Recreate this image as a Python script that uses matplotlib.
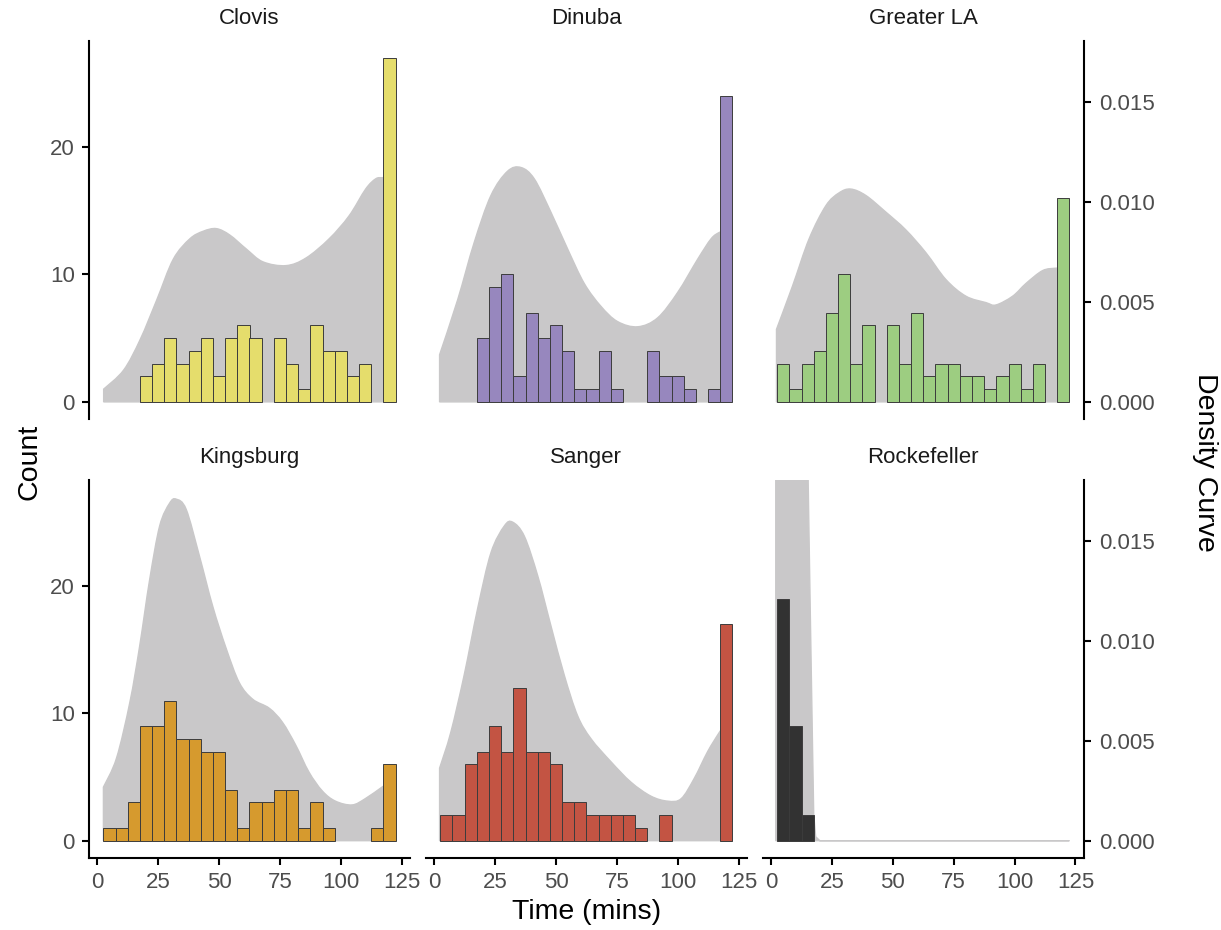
import numpy as np
import matplotlib
matplotlib.use("Agg")
import matplotlib.pyplot as plt
from matplotlib.path import Path
from matplotlib.patches import PathPatch

plt.rcParams['font.family'] = ['Liberation Sans', 'DejaVu Sans']

# ---------------- data ----------------
bin_centers = [5, 10, 15, 20, 25, 30, 35, 40, 45, 50, 55, 60,
               65, 70, 75, 80, 85, 90, 95, 100, 105, 110, 115, 120]
bin_width = 5

panels = ["Clovis", "Dinuba", "Greater LA", "Kingsburg", "Sanger", "Rockefeller"]
colors = ["#E5DD6C", "#9787BE", "#9DCD81", "#D69A2E", "#C35443", "#323232"]

clovis_counts = [0, 0, 0, 2, 3, 5, 3, 4, 5, 2, 5, 6, 5, 0, 5, 3, 1, 6, 4, 4, 2, 3, 0, 27]
dinuba_counts = [0, 0, 0, 5, 9, 10, 2, 7, 5, 6, 4, 1, 1, 4, 1, 0, 0, 4, 2, 2, 1, 0, 1, 24]
greaterla_counts = [3, 1, 3, 4, 7, 10, 3, 6, 0, 6, 3, 7, 2, 3, 3, 2, 2, 1, 2, 3, 1, 3, 0, 16]
kingsburg_counts = [1, 1, 3, 9, 9, 11, 8, 8, 7, 7, 4, 1, 3, 3, 4, 4, 1, 3, 1, 0, 0, 0, 1, 6]
sanger_counts = [2, 2, 6, 7, 9, 7, 12, 7, 7, 6, 3, 3, 2, 2, 2, 2, 1, 0, 2, 0, 0, 0, 0, 17]
rockefeller_counts = [19, 9, 2, 0, 0, 0, 0, 0, 0, 0, 0, 0, 0, 0, 0, 0, 0, 0, 0, 0, 0, 0, 0, 0]

# density curves (x in mins, y in density units)
clovis_dx = [2.6, 10.8, 17.6, 24.4, 31.2, 38, 43.5, 48.9, 54.4, 61.2, 68, 77.5, 85.7, 95.2, 103.4, 110.2, 114.3, 117, 120]
clovis_dy = [0.00064, 0.00159, 0.00312, 0.0051, 0.00714, 0.00816, 0.00854, 0.00867, 0.00835, 0.00765, 0.00701,
             0.00682, 0.0072, 0.00816, 0.00931, 0.01065, 0.01116, 0.01122, 0.01122]
dinuba_dx = [2.2, 9.6, 16.4, 23.3, 30.1, 35.6, 41.1, 47.9, 54.8, 61.6, 68.5, 75.3, 83.6, 91.8, 100, 108.2, 113.7, 117.1, 120]
dinuba_dy = [0.00236, 0.0051, 0.00797, 0.01033, 0.01154, 0.01173, 0.01116, 0.0095, 0.00765, 0.00593, 0.00478,
             0.00402, 0.00376, 0.00421, 0.00548, 0.00714, 0.00816, 0.00848, 0.0086]
greaterla_dx = [2.2, 8.8, 15.6, 22.5, 27.9, 32.7, 38.9, 47.1, 55.3, 63.6, 71.8, 80, 88.2, 92.3, 99.2, 104.7, 111.5, 117, 120]
greaterla_dy = [0.00363, 0.0058, 0.00816, 0.00982, 0.01046, 0.01065, 0.01033, 0.0095, 0.00861, 0.00746, 0.00612,
                0.00529, 0.00497, 0.00485, 0.00529, 0.00593, 0.00657, 0.00669, 0.00669]
kingsburg_dx = [2.5, 7.9, 13.4, 17.4, 21.5, 25.6, 29.7, 32.4, 36.5, 42, 47.4, 52.9, 58.3, 63.8, 70.6, 76, 81.5,
                86.9, 92.4, 97.8, 104.6, 110, 116.9, 120]
kingsburg_dy = [0.00268, 0.00414, 0.00695, 0.00975, 0.01307, 0.01575, 0.01689, 0.01709, 0.01658, 0.01422, 0.01173,
                0.00963, 0.00791, 0.00708, 0.00663, 0.00593, 0.00478, 0.00344, 0.00249, 0.00198, 0.00179, 0.0021,
                0.00268, 0.00293]
sanger_dx = [2.2, 6.8, 12.3, 17.8, 23.3, 28.8, 32.2, 37, 42.5, 47.9, 53.4, 58.9, 64.4, 72.6, 80.8, 89, 95.9,
             101.4, 106.8, 112.3, 117.1, 120]
sanger_dy = [0.00363, 0.00542, 0.00829, 0.0116, 0.01441, 0.01575, 0.01594, 0.01524, 0.01326, 0.01077, 0.00829,
             0.00625, 0.0051, 0.00395, 0.00293, 0.00223, 0.00198, 0.0021, 0.00312, 0.00446, 0.00542, 0.00593]
rockefeller_dx = [1.9, 5, 10, 13, 15.2, 16, 17, 17.5, 18.3, 20, 122.5]
rockefeller_dy = [0.040, 0.045, 0.040, 0.028, 0.0181, 0.0121, 0.0048, 0.0013, 0.0002, 0.0, 0.0]

all_counts = [clovis_counts, dinuba_counts, greaterla_counts, kingsburg_counts, sanger_counts, rockefeller_counts]
all_dx = [clovis_dx, dinuba_dx, greaterla_dx, kingsburg_dx, sanger_dx, rockefeller_dx]
all_dy = [clovis_dy, dinuba_dy, greaterla_dy, kingsburg_dy, sanger_dy, rockefeller_dy]
smooth_curve = [True, True, True, True, True, False]

count_ticks = [0, 10, 20]
density_ticks = [0.000, 0.005, 0.010, 0.015]
x_ticks = [0, 25, 50, 75, 100, 125]

# ---------------- layout ----------------
W, H = 1221, 930
fig = plt.figure(figsize=(W / 100, H / 100), dpi=100)

k = 0.0006375           # density per count on secondary axis
ylim = (-1.35, 28.35)
xlim = (-3.5, 128.5)

lefts = [88.8, 425.7, 762.6]
pw = 321.4
tops = [40.7, 479.5]
ph = 378.4

grey_fill = "#C9C8C9"
tick_col = "#4D4D4D"
fs_tick = 16
fs_title = 20.5
lw_axis = 1.5


def area_path(xs, ys, smooth):
    """Closed area path under the curve through (xs, ys); drawn with Bezier segments."""
    pts = np.column_stack([xs, ys])
    verts = [(xs[0], 0.0), (xs[0], ys[0])]
    codes = [Path.MOVETO, Path.LINETO]
    n = len(pts)
    for j in range(n - 1):
        p1, p2 = pts[j], pts[j + 1]
        if smooth:
            p0 = pts[j - 1] if j > 0 else p1
            p3 = pts[j + 2] if j + 2 < n else p2
            c1 = p1 + (p2 - p0) / 6.0
            c2 = p2 - (p3 - p1) / 6.0
            verts += [tuple(c1), tuple(c2), tuple(p2)]
            codes += [Path.CURVE4] * 3
        else:
            verts.append(tuple(p2))
            codes.append(Path.LINETO)
    verts += [(xs[-1], 0.0), (xs[0], 0.0)]
    codes += [Path.LINETO, Path.CLOSEPOLY]
    return Path(verts, codes)


for i, name in enumerate(panels):
    r, c = divmod(i, 3)
    ax = fig.add_axes([lefts[c] / W, 1 - (tops[r] + ph) / H, pw / W, ph / H])
    dx = np.array(all_dx[i], dtype=float)
    dy = np.array(all_dy[i], dtype=float) / k
    patch = PathPatch(area_path(dx, dy, smooth_curve[i]), facecolor=grey_fill,
                      edgecolor=grey_fill, lw=1.0, zorder=1)
    ax.add_patch(patch)
    cnt = np.array(all_counts[i])
    ctr = np.array(bin_centers)
    m = cnt > 0
    ax.bar(ctr[m], cnt[m], width=bin_width, color=colors[i], edgecolor="#3C3C3C",
           linewidth=0.7, zorder=2)
    ax.set_xlim(*xlim)
    ax.set_ylim(*ylim)
    for s in ax.spines.values():
        s.set_visible(False)
    ax.tick_params(axis='both', colors="black", labelcolor=tick_col, labelsize=fs_tick,
                   width=lw_axis, length=5)
    if c == 0:
        ax.spines['left'].set_visible(True)
        ax.spines['left'].set_linewidth(lw_axis)
        ax.set_yticks(count_ticks)
        ax.tick_params(axis='y', pad=5)
    else:
        ax.set_yticks([])
    if r == 1:
        ax.spines['bottom'].set_visible(True)
        ax.spines['bottom'].set_linewidth(lw_axis)
        ax.set_xticks(x_ticks)
        ax.tick_params(axis='x', pad=5)
    else:
        ax.set_xticks([])
    if c == 2:
        sec = ax.secondary_yaxis('right', functions=(lambda v: v * k, lambda v: v / k))
        for s in sec.spines.values():
            s.set_visible(False)
        sec.spines['right'].set_visible(True)
        sec.spines['right'].set_linewidth(lw_axis)
        sec.set_yticks(density_ticks)
        sec.set_yticklabels([f"{t:.3f}" for t in density_ticks])
        sec.tick_params(axis='y', colors="black", labelcolor=tick_col, labelsize=fs_tick,
                        width=lw_axis, length=5, pad=6)
    ax.text(0.5, 1 + 22.5 / ph, name, transform=ax.transAxes, ha='center', va='center',
            fontsize=fs_tick, color="#1A1A1A")

fig.text(586.4 / W, 1 - 912 / H, "Time (mins)", ha='center', va='center', fontsize=fs_title)
fig.text(30 / W, 1 - 462 / H, "Count", ha='center', va='center', rotation=90, fontsize=fs_title)
fig.text(1205 / W, 1 - 462 / H, "Density Curve", ha='center', va='center', rotation=270,
         fontsize=fs_title)

fig.savefig("out.png", dpi=100, facecolor="white")
